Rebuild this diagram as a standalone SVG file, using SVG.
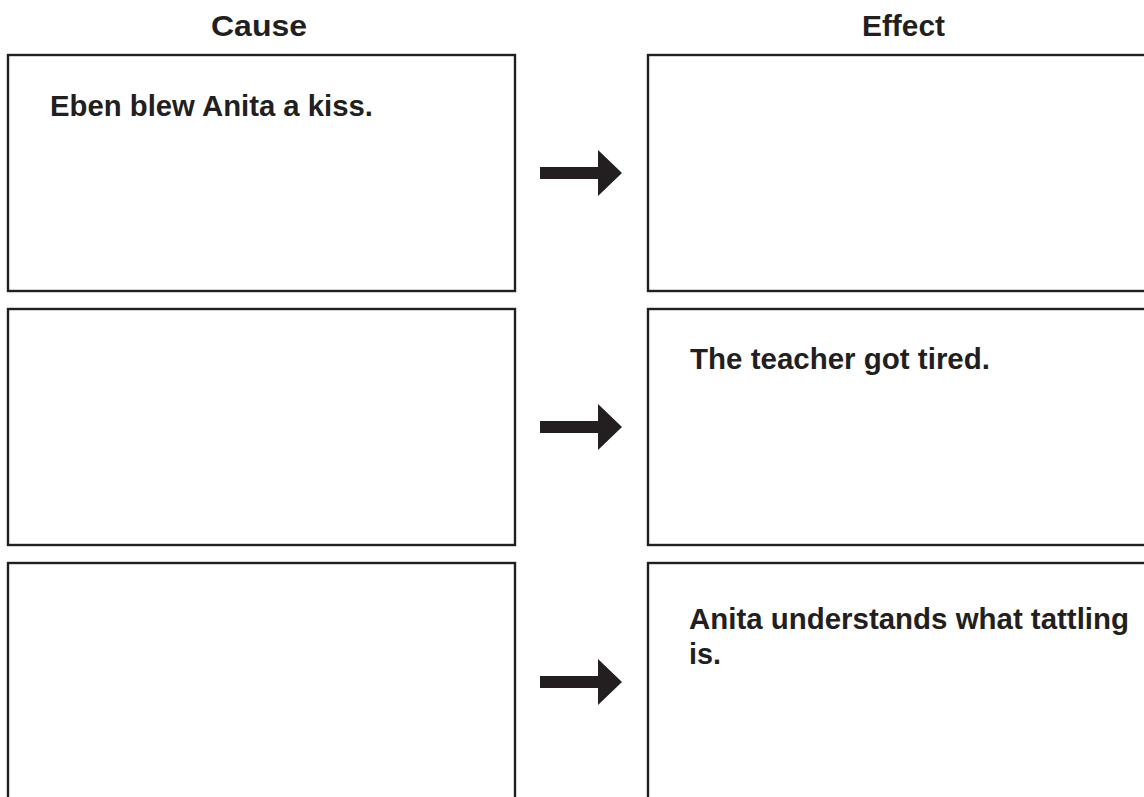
<svg xmlns="http://www.w3.org/2000/svg" width="1144" height="797" viewBox="0 0 1144 797">
<style>
.box{fill:#fff;stroke:#231f20;stroke-width:2.4}
.hd{font-family:"Liberation Sans",Arial,sans-serif;font-weight:bold;font-size:30px;fill:#231f20}
.tx{font-family:"Liberation Sans",Arial,sans-serif;font-weight:bold;font-size:30px;fill:#231f20}
.arr{fill:#231f20}
</style>
<rect width="1144" height="797" fill="#fff"/>
<g id="head-cause"><text class="hd" x="211" y="36" textLength="96" lengthAdjust="spacingAndGlyphs">Cause</text></g>
<g id="head-effect"><text class="hd" x="862" y="36" textLength="83" lengthAdjust="spacingAndGlyphs">Effect</text></g>
<g id="cause1"><rect class="box" x="8" y="55" width="507" height="236"/><text class="tx" x="50" y="116" textLength="323" lengthAdjust="spacingAndGlyphs">Eben blew Anita a kiss.</text></g>
<g id="cause2"><rect class="box" x="8" y="309" width="507" height="236"/></g>
<g id="cause3"><rect class="box" x="8" y="563" width="507" height="240"/></g>
<g id="effect1"><rect class="box" x="648" y="55" width="500" height="236"/></g>
<g id="effect2"><rect class="box" x="648" y="309" width="500" height="236"/><text class="tx" x="690" y="369" textLength="300" lengthAdjust="spacingAndGlyphs">The teacher got tired.</text></g>
<g id="effect3"><rect class="box" x="648" y="563" width="500" height="240"/><text class="tx" x="689" y="629" textLength="440" lengthAdjust="spacingAndGlyphs">Anita understands what tattling</text><text class="tx" x="689" y="664" textLength="32" lengthAdjust="spacingAndGlyphs">is.</text></g>
<g id="connectors">
<path class="arr" d="M540 167H598V150L622 173L598 196V179H540Z"/>
<path class="arr" d="M540 421H598V404L622 427L598 450V433H540Z"/>
<path class="arr" d="M540 676H598V659L622 682L598 705V688H540Z"/>
</g>
</svg>
